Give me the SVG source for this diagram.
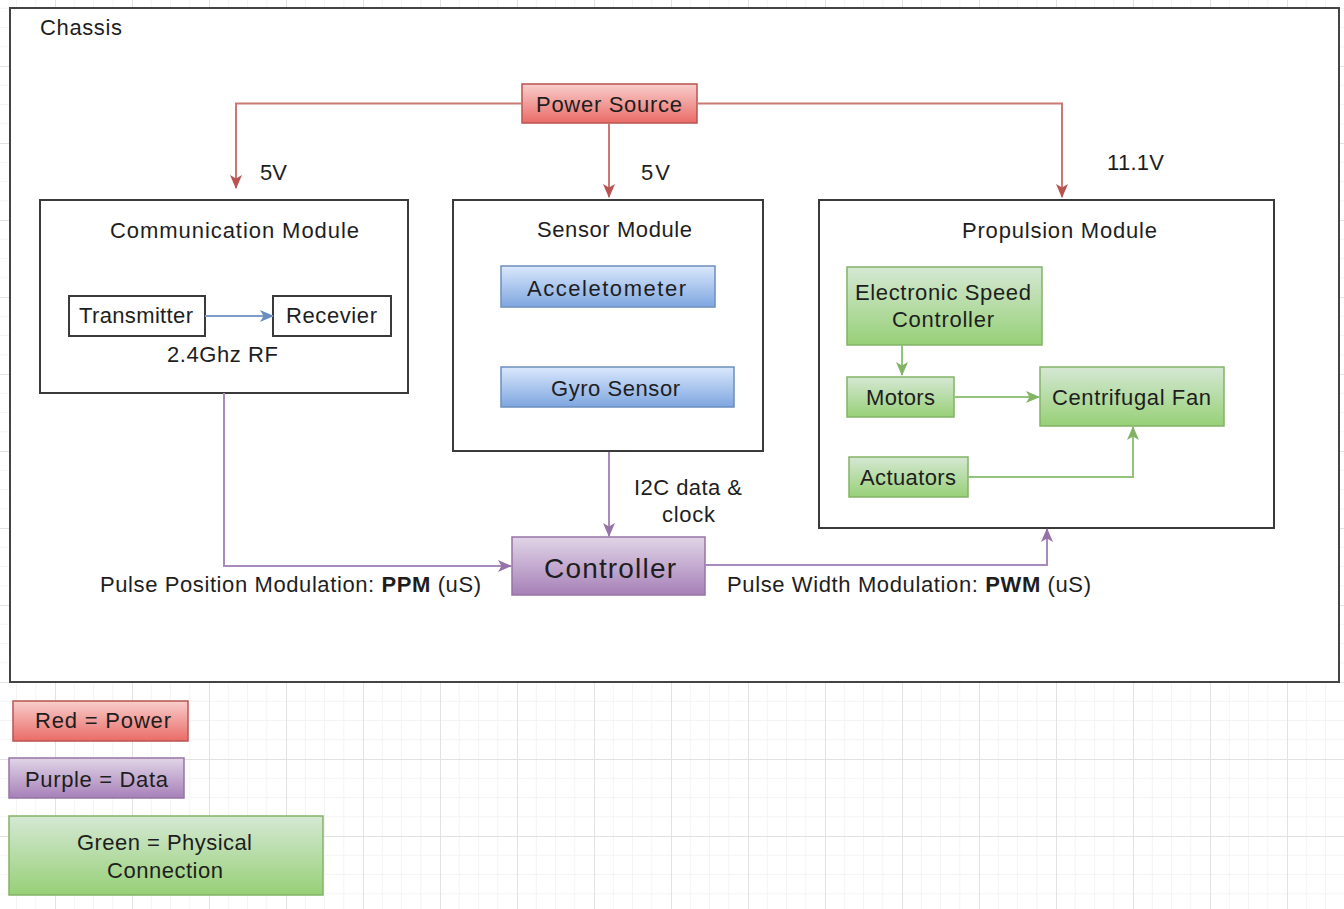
<svg xmlns="http://www.w3.org/2000/svg" width="1344" height="909" viewBox="0 0 1344 909">
  <defs>
    <style>
      text { font-family: "Liberation Sans", Arial, sans-serif; font-size: 22px; fill: #1e1e1e; }
      .box { fill: #ffffff; stroke: #3a3a3a; stroke-width: 2; }
      .red { fill: url(#gRed); stroke: #b85450; stroke-width: 1.5; }
      .purple { fill: url(#gPurple); stroke: #9673a6; stroke-width: 1.5; }
      .green { fill: url(#gGreen); stroke: #82b366; stroke-width: 1.5; }
      .blue { fill: url(#gBlue); stroke: #6c8ebf; stroke-width: 1.5; }
      .wire { fill: none; stroke-width: 2; }
      .wRed { stroke: #c97873; }
      .wPurple { stroke: #a88bbd; }
      .wGreen { stroke: #93c47d; }
      .wBlue { stroke: #7f9cc8; }
    </style>
    <linearGradient id="gRed" x1="0" y1="0" x2="0" y2="1">
      <stop offset="0" stop-color="#f8cecc"/>
      <stop offset="1" stop-color="#ea6b66"/>
    </linearGradient>
    <linearGradient id="gPurple" x1="0" y1="0" x2="0" y2="1">
      <stop offset="0" stop-color="#e1d5e7"/>
      <stop offset="1" stop-color="#a680b8"/>
    </linearGradient>
    <linearGradient id="gGreen" x1="0" y1="0" x2="0" y2="1">
      <stop offset="0" stop-color="#d5e8d4"/>
      <stop offset="1" stop-color="#97d077"/>
    </linearGradient>
    <linearGradient id="gBlue" x1="0" y1="0" x2="0" y2="1">
      <stop offset="0" stop-color="#dae8fc"/>
      <stop offset="1" stop-color="#7ea6e0"/>
    </linearGradient>
    <!-- background grid: major 77px cells split into 4 minor steps -->
    <pattern id="grid" patternUnits="userSpaceOnUse" x="55" y="66" width="77" height="77">
      <path d="M19.25 0V77M38.5 0V77M57.75 0V77M0 19.25H77M0 38.5H77M0 57.75H77" stroke="#f4f4f4" stroke-width="1" fill="none"/>
      <path d="M0.5 0V77M0 0.5H77" stroke="#e2e2e2" stroke-width="1" fill="none"/>
    </pattern>
    <marker id="aRed" markerUnits="userSpaceOnUse" viewBox="0 0 14 14" markerWidth="14" markerHeight="14" refX="13" refY="7" orient="auto">
      <path d="M0 1 L14 7 L0 13 L3.5 7 Z" fill="#b85450"/>
    </marker>
    <marker id="aPurple" markerUnits="userSpaceOnUse" viewBox="0 0 14 14" markerWidth="14" markerHeight="14" refX="13" refY="7" orient="auto">
      <path d="M0 1 L14 7 L0 13 L3.5 7 Z" fill="#9673a6"/>
    </marker>
    <marker id="aGreen" markerUnits="userSpaceOnUse" viewBox="0 0 14 14" markerWidth="14" markerHeight="14" refX="13" refY="7" orient="auto">
      <path d="M0 1 L14 7 L0 13 L3.5 7 Z" fill="#82b366"/>
    </marker>
    <marker id="aBlue" markerUnits="userSpaceOnUse" viewBox="0 0 14 14" markerWidth="14" markerHeight="14" refX="13" refY="7" orient="auto">
      <path d="M0 1 L14 7 L0 13 L3.5 7 Z" fill="#6c8ebf"/>
    </marker>
  </defs>

  <rect x="0" y="0" width="1344" height="909" fill="#ffffff"/>
  <rect x="0" y="0" width="1344" height="909" fill="url(#grid)"/>

  <!-- outer chassis container -->
  <g id="chassis">
    <rect x="10" y="8" width="1329" height="674" fill="#ffffff" stroke="#444444" stroke-width="2"/>
    <text x="40" y="35" textLength="82">Chassis</text>
  </g>

  <g id="power-source">
    <rect class="red" x="522" y="84" width="175" height="39"/>
    <text x="536" y="112" textLength="146">Power Source</text>
  </g>

  <g id="communication-module">
    <rect class="box" x="40" y="200" width="368" height="193"/>
    <text x="110" y="238" textLength="249">Communication Module</text>
  </g>
  <g id="transmitter">
    <rect class="box" x="69" y="296" width="136" height="40"/>
    <text x="79" y="323" textLength="114">Transmitter</text>
  </g>
  <g id="receiver">
    <rect class="box" x="273" y="296" width="118" height="40"/>
    <text x="286" y="323" textLength="91">Recevier</text>
  </g>

  <g id="sensor-module">
    <rect class="box" x="453" y="200" width="310" height="251"/>
    <text x="537" y="237" textLength="155">Sensor Module</text>
  </g>
  <g id="accelerometer">
    <rect class="blue" x="501" y="266" width="214" height="41"/>
    <text x="527" y="296" textLength="159">Acceletometer</text>
  </g>
  <g id="gyro-sensor">
    <rect class="blue" x="501" y="367" width="233" height="40"/>
    <text x="551" y="396" textLength="129">Gyro Sensor</text>
  </g>

  <g id="propulsion-module">
    <rect class="box" x="819" y="200" width="455" height="328"/>
    <text x="962" y="238" textLength="195">Propulsion Module</text>
  </g>
  <g id="esc">
    <rect class="green" x="847" y="267" width="195" height="78"/>
    <text x="855" y="300" textLength="176">Electronic Speed</text>
    <text x="892" y="327" textLength="102">Controller</text>
  </g>
  <g id="motors">
    <rect class="green" x="847" y="377" width="107" height="40"/>
    <text x="866" y="405" textLength="69">Motors</text>
  </g>
  <g id="centrifugal-fan">
    <rect class="green" x="1040" y="367" width="184" height="59"/>
    <text x="1052" y="405" textLength="159">Centrifugal Fan</text>
  </g>
  <g id="actuators">
    <rect class="green" x="849" y="457" width="119" height="40"/>
    <text x="860" y="485" textLength="96">Actuators</text>
  </g>

  <g id="controller">
    <rect class="purple" x="512" y="537" width="193" height="58"/>
    <text x="544" y="578" textLength="132" style="font-size:28px">Controller</text>
  </g>

  <!-- connectors and their labels -->
  <g id="connectors">
    <path class="wire wRed" d="M522 103.5H236V188" marker-end="url(#aRed)"/>
    <path class="wire wRed" d="M609 123V197" marker-end="url(#aRed)"/>
    <path class="wire wRed" d="M697 103.5H1062V197" marker-end="url(#aRed)"/>
    <path class="wire wBlue" d="M205 316H273" marker-end="url(#aBlue)"/>
    <path class="wire wPurple" d="M224 393V566H511" marker-end="url(#aPurple)"/>
    <path class="wire wPurple" d="M609 452V536" marker-end="url(#aPurple)"/>
    <path class="wire wPurple" d="M705 565H1047V529" marker-end="url(#aPurple)"/>
    <path class="wire wGreen" d="M902 345V375" marker-end="url(#aGreen)"/>
    <path class="wire wGreen" d="M954 397H1039" marker-end="url(#aGreen)"/>
    <path class="wire wGreen" d="M968 477H1133V427" marker-end="url(#aGreen)"/>

    <text x="260" y="180" textLength="27">5V</text>
    <text x="641" y="180" textLength="29">5V</text>
    <text x="1107" y="170" textLength="57">11.1V</text>
    <text x="167" y="362" textLength="111">2.4Ghz RF</text>
    <text x="634" y="495" textLength="108">I2C data &amp;</text>
    <text x="662" y="522" textLength="53">clock</text>
    <text x="100" y="592" textLength="381">Pulse Position Modulation: <tspan font-weight="bold">PPM</tspan> (uS)</text>
    <text x="727" y="592" textLength="364">Pulse Width Modulation: <tspan font-weight="bold">PWM</tspan> (uS)</text>
  </g>

  <!-- colour key -->
  <g id="legend-power">
    <rect class="red" x="13" y="701" width="175" height="40"/>
    <text x="35" y="728" textLength="136">Red = Power</text>
  </g>
  <g id="legend-data">
    <rect class="purple" x="9" y="758" width="175" height="40"/>
    <text x="25" y="787" textLength="143">Purple = Data</text>
  </g>
  <g id="legend-physical">
    <rect class="green" x="9" y="816" width="314" height="79"/>
    <text x="77" y="850" textLength="175">Green = Physical</text>
    <text x="107" y="878" textLength="116">Connection</text>
  </g>
</svg>
